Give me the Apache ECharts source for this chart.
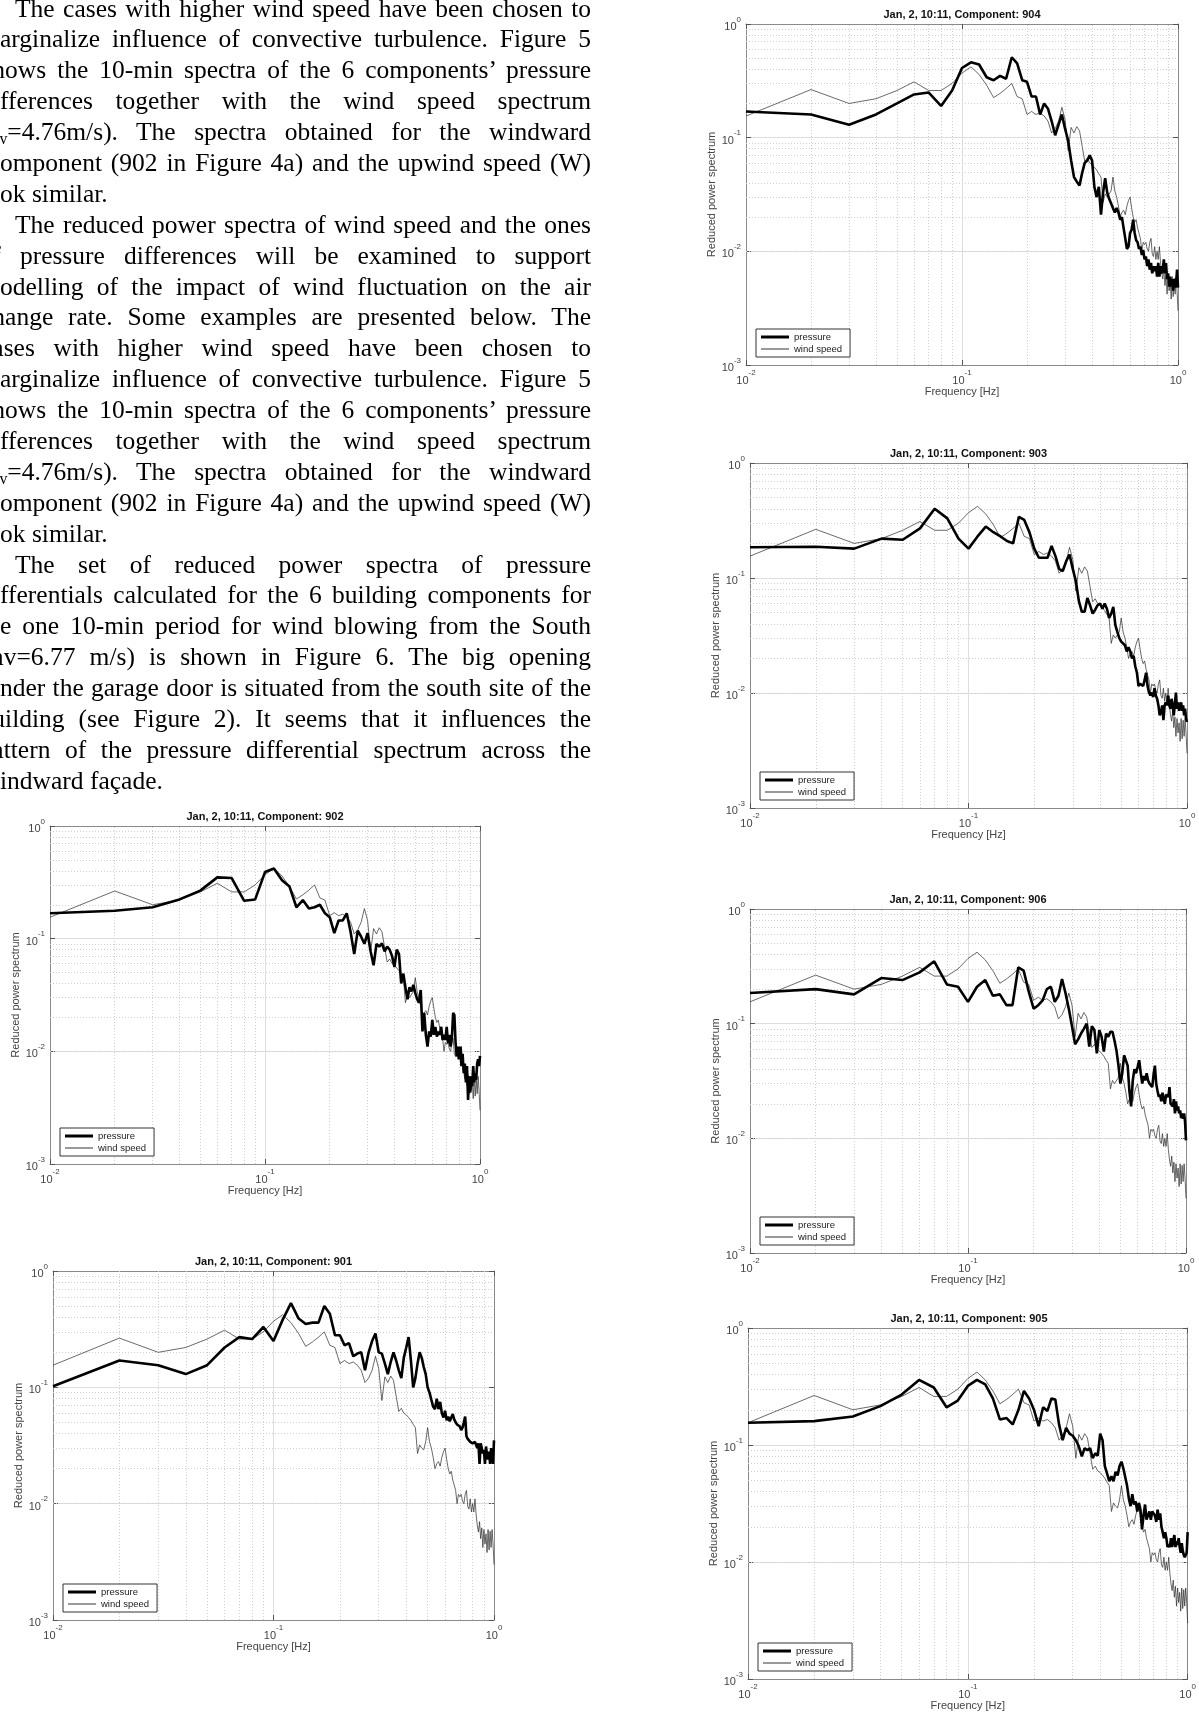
<!DOCTYPE html>
<html>
<head>
<meta charset="utf-8">
<script src="https://cdn.jsdelivr.net/npm/echarts@6/dist/echarts.min.js"></script>
<style>
html,body{margin:0;padding:0;background:#fff;}
#chart{position:absolute;left:0;top:0;width:1199px;height:1714px;}
#text{position:absolute;left:0;top:-6.5px;width:591px;overflow:hidden;z-index:2;
  font-family:"Liberation Serif","Times New Roman",serif;font-size:25.5px;color:#000;}
#text div{height:30.9px;line-height:30.9px;text-align:justify;text-align-last:justify;white-space:normal;}
#text div.l{text-align:left;text-align-last:left;}
#text div.i{padding-left:15px;}
#text .p{display:inline-block;margin-left:-0.3em;}
#text sub{font-size:0.62em;line-height:0;vertical-align:-0.25em;}
</style>
</head>
<body>
<div id="text">
<div class="i">The cases with higher wind speed have been chosen to</div>
<div>arginalize influence of convective turbulence. Figure 5</div>
<div><span class="p">h</span>ows the 10-min spectra of the 6 components’ pressure</div>
<div>fferences together with the wind speed spectrum</div>
<div><span class="p"><sub>a</sub></span><sub>v</sub>=4.76m/s). The spectra obtained for the windward</div>
<div>omponent (902 in Figure 4a) and the upwind speed (W)</div>
<div class="l">ok similar.</div>
<div class="i">The reduced power spectra of wind speed and the ones</div>
<div><span class="p">f</span> pressure differences will be examined to support</div>
<div>odelling of the impact of wind fluctuation on the air</div>
<div><span class="p">h</span>ange rate. Some examples are presented below. The</div>
<div><span class="p">a</span>ses with higher wind speed have been chosen to</div>
<div>arginalize influence of convective turbulence. Figure 5</div>
<div><span class="p">h</span>ows the 10-min spectra of the 6 components’ pressure</div>
<div>fferences together with the wind speed spectrum</div>
<div><span class="p"><sub>a</sub></span><sub>v</sub>=4.76m/s). The spectra obtained for the windward</div>
<div>omponent (902 in Figure 4a) and the upwind speed (W)</div>
<div class="l">ok similar.</div>
<div class="i">The set of reduced power spectra of pressure</div>
<div>fferentials calculated for the 6 building components for</div>
<div>e one 10-min period for wind blowing from the South</div>
<div><span class="p">a</span>v=6.77 m/s) is shown in Figure 6. The big opening</div>
<div>nder the garage door is situated from the south site of the</div>
<div><span class="p">u</span>ilding (see Figure 2). It seems that it influences the</div>
<div><span class="p">a</span>ttern of the pressure differential spectrum across the</div>
<div class="l">indward façade.</div>
</div>
<div id="chart"></div>
<script>
// ---------------- data ----------------
const FREQ = [0.01,0.02,0.03,0.04,0.05,0.06,0.07,0.08,0.09,0.10,
0.11,0.12,0.13,0.14,0.15,0.16,0.17,0.18,0.19,0.20,
0.21,0.22,0.23,0.24,0.25,0.26,0.27,0.28,0.29,0.30,
0.31,0.32,0.33,0.34,0.35,0.36,0.37,0.38,0.39,0.40,
0.41,0.42,0.43,0.44,0.45,0.46,0.47,0.48,0.49,0.50,
0.51,0.52,0.53,0.54,0.55,0.56,0.57,0.58,0.59,0.60,
0.61,0.62,0.63,0.64,0.65,0.66,0.67,0.68,0.69,0.70,
0.71,0.72,0.73,0.74,0.75,0.76,0.77,0.78,0.79,0.80,
0.81,0.82,0.83,0.84,0.85,0.86,0.87,0.88,0.89,0.90,
0.91,0.92,0.93,0.94,0.95,0.96,0.97,0.98,0.99,1.00];

const WIND = [0.155,0.265,0.2,0.22,0.26,0.31,0.26,0.26,0.30,0.37,
0.42,0.36,0.29,0.225,0.245,0.27,0.30,0.23,0.22,0.16,
0.17,0.16,0.165,0.155,0.14,0.11,0.12,0.14,0.185,0.145,
0.077,0.123,0.11,0.125,0.115,0.084,0.062,0.066,0.06,0.058,
0.055,0.052,0.048,0.045,0.027,0.032,0.03,0.029,0.034,0.045,
0.034,0.03,0.025,0.02,0.022,0.023,0.021,0.025,0.028,0.03,
0.024,0.02,0.018,0.019,0.016,0.016,0.013,0.01,0.012,0.0115,
0.012,0.0105,0.01,0.012,0.013,0.0095,0.009,0.011,0.0085,0.01,
0.0085,0.011,0.008,0.0065,0.0057,0.007,0.005,0.0062,0.0042,0.006,
0.0045,0.0055,0.0038,0.006,0.004,0.0058,0.0042,0.006,0.0045,0.003];

const P904 = [0.17,0.16,0.13,0.16,0.2,0.24,0.25,0.19,0.26,0.41,
0.46,0.44,0.34,0.32,0.35,0.33,0.51,0.45,0.32,0.31,
0.23,0.23,0.16,0.2,0.18,0.14,0.105,0.13,0.16,0.12,
0.094,0.063,0.045,0.041,0.038,0.049,0.06,0.063,0.07,0.063,
0.037,0.03,0.037,0.021,0.033,0.044,0.033,0.029,0.03,0.024,
0.022,0.024,0.022,0.019,0.02,0.016,0.013,0.0105,0.011,0.0145,
0.0155,0.019,0.0145,0.0125,0.012,0.0105,0.011,0.0093,0.0103,0.0085,
0.009,0.0074,0.0085,0.0069,0.0079,0.0064,0.0074,0.0067,0.0074,0.006,
0.0079,0.006,0.0074,0.0064,0.0069,0.0085,0.0064,0.0079,0.0057,0.0064,
0.0049,0.006,0.0049,0.0057,0.0045,0.0057,0.0048,0.0052,0.0069,0.0048];

const P903 = [0.185,0.187,0.18,0.22,0.215,0.27,0.40,0.33,0.22,0.18,
0.23,0.28,0.25,0.23,0.21,0.2,0.34,0.32,0.25,0.18,
0.15,0.15,0.15,0.19,0.155,0.12,0.115,0.14,0.16,0.12,
0.094,0.063,0.051,0.051,0.067,0.058,0.049,0.053,0.058,0.06,
0.054,0.06,0.054,0.045,0.049,0.056,0.039,0.034,0.03,0.028,
0.028,0.026,0.023,0.025,0.023,0.02,0.021,0.017,0.015,0.0115,
0.012,0.012,0.0115,0.013,0.015,0.0115,0.0101,0.0095,0.0101,0.0092,
0.011,0.0095,0.0089,0.0078,0.0064,0.0068,0.0078,0.0058,0.0078,0.0083,
0.0078,0.0095,0.0078,0.0073,0.0089,0.0078,0.0064,0.008,0.0101,0.0073,
0.0083,0.007,0.0078,0.0083,0.007,0.0078,0.0064,0.0073,0.006,0.0056];

const P906 = [0.185,0.2,0.18,0.25,0.24,0.28,0.35,0.22,0.21,0.155,
0.21,0.24,0.175,0.18,0.145,0.145,0.31,0.29,0.19,0.135,
0.145,0.16,0.2,0.21,0.155,0.175,0.245,0.185,0.135,0.095,
0.066,0.073,0.082,0.09,0.1,0.063,0.095,0.088,0.055,0.088,
0.077,0.057,0.082,0.077,0.085,0.085,0.071,0.058,0.043,0.03,
0.037,0.053,0.055,0.043,0.026,0.019,0.032,0.04,0.037,0.042,
0.048,0.037,0.03,0.035,0.032,0.037,0.032,0.03,0.03,0.028,
0.036,0.043,0.03,0.026,0.023,0.024,0.021,0.025,0.022,0.02,
0.024,0.024,0.023,0.028,0.02,0.02,0.019,0.022,0.0165,0.021,
0.0175,0.019,0.0165,0.0175,0.015,0.0165,0.0148,0.0165,0.014,0.0096];

const P905 = [0.155,0.16,0.175,0.215,0.27,0.36,0.31,0.21,0.24,0.32,
0.36,0.33,0.25,0.165,0.17,0.15,0.2,0.29,0.25,0.2,
0.145,0.21,0.195,0.25,0.245,0.15,0.11,0.14,0.125,0.12,
0.11,0.097,0.08,0.094,0.09,0.094,0.077,0.085,0.081,0.125,
0.11,0.066,0.057,0.049,0.054,0.049,0.059,0.055,0.066,0.072,
0.063,0.061,0.045,0.035,0.03,0.038,0.031,0.033,0.027,0.032,
0.028,0.019,0.025,0.031,0.023,0.025,0.027,0.023,0.027,0.028,
0.025,0.022,0.028,0.023,0.026,0.02,0.018,0.016,0.018,0.016,
0.0134,0.014,0.0134,0.016,0.0134,0.0134,0.017,0.0134,0.015,0.014,
0.016,0.0134,0.012,0.0145,0.0125,0.0115,0.011,0.0107,0.012,0.018];

const P902 = [0.168,0.177,0.19,0.223,0.267,0.35,0.345,0.217,0.223,0.39,
0.42,0.33,0.29,0.19,0.22,0.185,0.19,0.2,0.168,0.155,
0.112,0.145,0.145,0.168,0.115,0.073,0.118,0.104,0.09,0.112,
0.077,0.058,0.09,0.085,0.091,0.077,0.085,0.08,0.07,0.056,
0.08,0.073,0.04,0.049,0.037,0.029,0.037,0.034,0.039,0.033,
0.029,0.027,0.035,0.015,0.022,0.014,0.011,0.015,0.0135,0.019,
0.014,0.0165,0.0135,0.015,0.014,0.0165,0.0126,0.014,0.0126,0.0165,
0.0118,0.014,0.011,0.0132,0.022,0.021,0.0118,0.009,0.011,0.0085,
0.011,0.0074,0.0095,0.0064,0.0078,0.0053,0.0074,0.0037,0.006,0.0043,
0.006,0.0049,0.0074,0.0053,0.0064,0.0056,0.0078,0.0085,0.0074,0.0091];

const P901 = [0.102,0.17,0.155,0.13,0.155,0.22,0.27,0.26,0.33,0.25,
0.38,0.53,0.39,0.35,0.36,0.36,0.5,0.43,0.28,0.28,
0.23,0.24,0.185,0.195,0.2,0.14,0.2,0.25,0.29,0.2,
0.195,0.16,0.13,0.165,0.2,0.17,0.14,0.12,0.18,0.22,
0.27,0.17,0.1,0.12,0.16,0.2,0.18,0.15,0.13,0.1,
0.09,0.078,0.068,0.065,0.08,0.065,0.075,0.06,0.055,0.063,
0.052,0.056,0.051,0.05,0.059,0.053,0.05,0.048,0.047,0.046,
0.043,0.045,0.05,0.056,0.038,0.036,0.035,0.034,0.033,0.033,
0.032,0.034,0.034,0.03,0.033,0.022,0.033,0.03,0.027,0.029,
0.022,0.031,0.026,0.024,0.028,0.022,0.03,0.025,0.022,0.035];

const COMPONENTS = ['904','903','906','905','902','901'];
const PRESSURE = [P904, P903, P906, P905, P902, P901];
const MINOR_X = [0.02,0.03,0.04,0.05,0.06,0.07,0.08,0.09,0.2,0.3,0.4,0.5,0.6,0.7,0.8,0.9];
const MINOR_Y = [0.002,0.003,0.004,0.005,0.006,0.007,0.008,0.009,
                 0.02,0.03,0.04,0.05,0.06,0.07,0.08,0.09,
                 0.2,0.3,0.4,0.5,0.6,0.7,0.8,0.9];
const TITLE_PREFIX = 'Jan, 2, 10:11, Component: ';
const X_NAME = 'Frequency [Hz]';
const Y_NAME = 'Reduced power spectrum';
const NAMES = ['pressure', 'wind speed'];

// ---------------- layout (plot rectangles) ----------------
const PANELS = [
  {L:746, T:24,   W:432, H:341},
  {L:750, T:463,  W:437, H:345},
  {L:750, T:909,  W:436, H:344},
  {L:748, T:1328, W:442, H:351},
  {L:50,  T:826,  W:430, H:338},
  {L:53,  T:1271, W:441, H:349}
];

const FONT = '"Liberation Sans", Arial, Helvetica, sans-serif';
const rich = {
  b: {fontSize: 11, color: '#444', fontFamily: FONT, lineHeight: 17, verticalAlign: 'bottom'},
  s: {fontSize: 8, color: '#444', fontFamily: FONT, lineHeight: 9, verticalAlign: 'top'}
};
function sci(v) {
  const e = Math.round(Math.log10(v));
  return '{b|10}{s|' + e + '}';
}

const chart = echarts.init(document.getElementById('chart'), null, {renderer: 'canvas'});
const option = {animation: false, title: [], legend: [], grid: [], xAxis: [], yAxis: [], series: []};

PANELS.forEach((p, i) => {
  option.grid.push({left: p.L, top: p.T, width: p.W, height: p.H, show: false});
  option.title.push({
    text: TITLE_PREFIX + COMPONENTS[i],
    left: p.L + p.W / 2, top: p.T - 15, textAlign: 'center', padding: 0,
    textStyle: {fontSize: 11, fontWeight: 'bold', color: '#111', fontFamily: FONT}
  });
  const axLine = {show: true, onZero: false, lineStyle: {color: '#8a8a8a', width: 1}};
  const tick = {show: true, inside: true, length: 5, lineStyle: {color: '#555', width: 1}};
  option.xAxis.push({
    gridIndex: i, type: 'log', logBase: 10, min: 0.01, max: 1, position: 'bottom',
    name: X_NAME, nameLocation: 'middle', nameGap: 21,
    nameTextStyle: {fontSize: 11, color: '#444', fontFamily: FONT},
    axisLine: axLine, axisTick: tick,
    axisLabel: {formatter: sci, rich: rich, margin: 4},
    splitLine: {show: true, lineStyle: {color: '#dedede', width: 1}}
  });
  option.xAxis.push({
    gridIndex: i, type: 'log', logBase: 10, min: 0.01, max: 1, position: 'top',
    axisLine: axLine, axisTick: tick, axisLabel: {show: false}, splitLine: {show: false}
  });
  option.yAxis.push({
    gridIndex: i, type: 'log', logBase: 10, min: 0.001, max: 1, position: 'left',
    name: Y_NAME, nameLocation: 'middle', nameGap: 28,
    nameTextStyle: {fontSize: 11, color: '#444', fontFamily: FONT},
    axisLine: axLine, axisTick: tick,
    axisLabel: {formatter: sci, rich: rich, margin: 5},
    splitLine: {show: true, lineStyle: {color: '#dedede', width: 1}}
  });
  option.yAxis.push({
    gridIndex: i, type: 'log', logBase: 10, min: 0.001, max: 1, position: 'right',
    axisLine: axLine, axisTick: tick, axisLabel: {show: false}, splitLine: {show: false}
  });
  const xi = 2 * i, yi = 2 * i;
  const minorLines = MINOR_X.map(v => ({xAxis: v})).concat(MINOR_Y.map(v => ({yAxis: v})));
  option.series.push({
    type: 'line', name: NAMES[1], xAxisIndex: xi, yAxisIndex: yi,
    data: FREQ.map((f, k) => [f, WIND[k]]),
    symbol: 'none', showSymbol: false, z: 3,
    lineStyle: {color: '#2a2a2a', width: 0.7},
    itemStyle: {color: '#2a2a2a'},
    markLine: {
      silent: true, symbol: 'none', z: 1, animation: false,
      label: {show: false},
      lineStyle: {color: '#cfcfcf', width: 1, type: [1, 2]},
      emphasis: {disabled: true},
      data: minorLines
    }
  });
  option.series.push({
    type: 'line', name: NAMES[0], xAxisIndex: xi, yAxisIndex: yi,
    data: FREQ.map((f, k) => [f, PRESSURE[i][k]]),
    symbol: 'none', showSymbol: false, z: 4,
    lineStyle: {color: '#000', width: 2.6},
    itemStyle: {color: '#000'}
  });
  option.legend.push({
    data: [
      {name: NAMES[0], icon: 'path://M0,0H28V3H0Z', itemStyle: {color: '#000'}},
      {name: NAMES[1], icon: 'path://M0,0H28V1H0Z', itemStyle: {color: '#333'}}
    ],
    orient: 'vertical', symbolKeepAspect: true,
    left: p.L + 10, top: p.T + p.H - 36,
    itemWidth: 28, itemHeight: 9, itemGap: 2,
    padding: [3, 8, 3, 5], borderColor: '#333', borderWidth: 1, backgroundColor: '#fff',
    selectedMode: false,
    textStyle: {fontSize: 9.5, color: '#222', fontFamily: FONT}
  });
});

chart.setOption(option);
</script>
</body>
</html>
